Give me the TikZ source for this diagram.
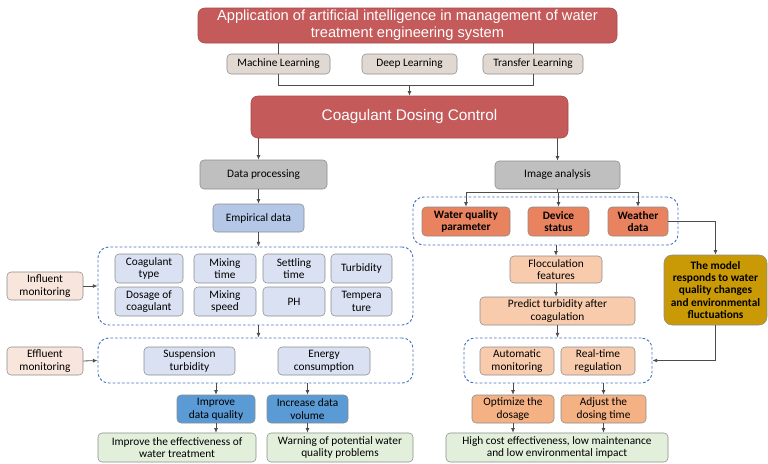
\documentclass[tikz,border=0pt]{standalone}
\usepackage{fontspec}
\setmainfont{Carlito}
\newfontfamily\headfont{Liberation Sans}
\usetikzlibrary{arrows.meta}

\definecolor{cRed}{HTML}{C55A5A}
\definecolor{cRedD}{HTML}{A84848}
\definecolor{cLearn}{HTML}{E2D8D2}
\definecolor{cGrey}{HTML}{BFBFBF}
\definecolor{cEmp}{HTML}{B4C7E7}
\definecolor{cPar}{HTML}{D9E1F2}
\definecolor{cMon}{HTML}{F8E5DC}
\definecolor{cBlue}{HTML}{5B9BD5}
\definecolor{cGreen}{HTML}{E2EFDA}
\definecolor{cOrange}{HTML}{E9825F}
\definecolor{cPeach}{HTML}{F8CBAD}
\definecolor{cApricot}{HTML}{F4B183}
\definecolor{cGold}{HTML}{C99A06}
\definecolor{cDash}{HTML}{4472C4}

\begin{document}
\begin{tikzpicture}[x=0.75pt,y=-0.75pt,
  >={Latex[length=3.5pt,width=3pt]},
  base/.style={draw=black!45, rounded corners=3pt, align=center, inner sep=1pt,
    font=\fontsize{8.5}{9.5}\selectfont, text=black},
  wh/.style 2 args={minimum width=#1*0.75pt, minimum height=#2*0.75pt},
  redbox/.style={base, fill=cRed, draw=cRedD, text=white, rounded corners=5pt},
  learnbox/.style={base, fill=cLearn},
  greybox/.style={base, fill=cGrey},
  empbox/.style={base, fill=cEmp},
  parbox/.style={base, fill=cPar},
  monbox/.style={base, fill=cMon},
  bluebox/.style={base, fill=cBlue},
  greenbox/.style={base, fill=cGreen},
  orangebox/.style={base, fill=cOrange, font=\fontsize{8.5}{9.5}\selectfont\bfseries},
  peachbox/.style={base, fill=cPeach},
  apricotbox/.style={base, fill=cApricot},
  goldbox/.style={base, fill=cGold, rounded corners=6pt, font=\fontsize{8.5}{9.3}\selectfont\bfseries},
  grp/.style={draw=cDash, dashed, dash pattern=on 2pt off 1.5pt, line width=0.7pt, rounded corners=8pt, inner sep=0pt},
  line/.style={draw=black!70, line width=0.6pt}
]
\useasboundingbox (0,0) rectangle (768,464);

% top part
\node[redbox, wh={419}{35}, font=\headfont\fontsize{11}{12.8}\selectfont] (title) at (407.5,25.5)
  {Application of artificial intelligence in management of water\\treatment engineering system};
\node[learnbox, wh={103}{20}] (ml) at (278.5,64) {Machine Learning};
\node[learnbox, wh={95}{20}] (dl) at (409.5,64) {Deep Learning};
\node[learnbox, wh={100}{20}] (tl) at (533,64) {Transfer Learning};
\node[redbox, wh={317}{42}, font=\headfont\fontsize{11.5}{14}\selectfont] (coag) at (409.5,117) {Coagulant Dosing Control};

% left branch
\node[greybox, wh={127}{29}] (dataproc) at (263.5,174.5) {Data processing};
\node[empbox, wh={91}{28}] (empdata) at (258.5,218) {Empirical data};
\node[grp, wh={315}{78}] (grp1) at (255.5,286) {};
\foreach \n/\cx/\w/\ta/\tb in {1/149/68/{Coagulant\\type}/{Dosage of\\coagulant},
    2/225/62/{Mixing\\time}/{Mixing\\speed},
    3/294/62/{Settling\\time}/PH,
    4/361.5/61/Turbidity/{Tempera\\ture}}
{
  \node[parbox, wh={\w}{29}] (pa\n) at (\cx,268.5) {\ta};
  \node[parbox, wh={\w}{29}] (pb\n) at (\cx,301.5) {\tb};
}
\node[monbox, wh={76}{28}] (influent) at (45,286) {Influent\\monitoring};
\node[grp, wh={315}{45}] (grp2) at (255.5,360.5) {};
\node[parbox, wh={91}{28}] (susp) at (189.5,361) {Suspension\\turbidity};
\node[parbox, wh={92}{28}] (energy) at (324,361) {Energy\\consumption};
\node[monbox, wh={76}{28}] (effluent) at (45,361) {Effluent\\monitoring};
\node[bluebox, wh={78}{28}] (quality) at (216,409) {Improve\\data quality};
\node[bluebox, wh={81}{28}] (volume) at (307.5,409) {Increase data\\volume};
\node[greenbox, wh={158}{29}] (effect) at (177,447.5) {Improve the effectiveness of\\water treatment};
\node[greenbox, wh={146}{29}] (warning) at (340,447.5) {Warning of potential water\\quality problems};

% right branch
\node[greybox, wh={125}{28}] (imgan) at (557.5,175) {Image analysis};
\node[grp, wh={265}{48}] (grp3) at (545.5,221) {};
\node[orangebox, wh={88}{29}] (wqp) at (466,221.5) {Water quality\\parameter};
\node[orangebox, wh={61}{29}] (device) at (558.5,221.5) {Device\\status};
\node[orangebox, wh={60}{29}] (weather) at (638,221.5) {Weather\\data};
\node[peachbox, wh={92}{27}] (floc) at (556,269.5) {Flocculation\\features};
\node[peachbox, wh={155}{28}] (predict) at (557.5,311) {Predict turbidity after\\coagulation};
\node[goldbox, wh={103}{70}] (model) at (715.5,290)
  {The model\\responds to water\\quality changes\\and environmental\\fluctuations};
\node[grp, wh={188}{45}] (grp4) at (558,360.5) {};
\node[peachbox, wh={74}{28}] (auto) at (517,361) {Automatic\\monitoring};
\node[peachbox, wh={74}{28}] (realtime) at (598,361) {Real-time\\regulation};
\node[apricotbox, wh={82}{28}] (optimize) at (513,409) {Optimize the\\dosage};
\node[apricotbox, wh={85}{28}] (adjust) at (603.5,409) {Adjust the\\dosing time};
\node[greenbox, wh={222}{29}] (benefit) at (557,447.5) {High cost effectiveness, low maintenance\\and low environmental impact};

% connectors
\coordinate (join) at (409.5,85);
\draw[line] (title.south -| ml) -- (ml.north);
\draw[line] (title.south -| tl) -- (tl.north);
\draw[line] (ml.south) -- (ml.south |- join) -- (tl.south |- join) -- (tl.south);
\draw[line,->] (join) -- (coag.north);
\draw[line,->] (empdata |- coag.south) -- (empdata |- dataproc.north);
\draw[line,->] (coag.south -| imgan) -- (imgan.north);

\draw[line,->] (empdata |- dataproc.south) -- (empdata.north);
\draw[line,->] (empdata.south) -- (empdata.south |- grp1.north);
\draw[line,->] (influent.east) -- (grp1.west);
\draw[line,->] (empdata |- grp1.south) -- (empdata |- grp2.north);
\draw[line,->] (effluent.east) -- (grp2.west);
\draw[line,->] (quality |- grp2.south) -- (quality.north);
\draw[line,->] (volume |- grp2.south) -- (volume.north);
\draw[line,->] (quality.south) -- (quality.south |- effect.north);
\draw[line,->] (volume.south) -- (volume.south |- warning.north);

\coordinate (branch) at ([yshift=-2pt]imgan.south);
\draw[line] (imgan.south) -- (branch);
\draw[line] (wqp.north |- branch) -- (weather.north |- branch);
\foreach \n in {wqp,device,weather}
  \draw[line,->] (\n.north |- branch) -- (\n.north);
\draw[line,->] (weather.east) -| (model.north);
\draw[line,->] (floc |- grp3.south) -- (floc.north);
\draw[line,->] (floc.south) -- (floc.south |- predict.north);
\draw[line,->] (predict.south) -- (predict.south |- grp4.north);
\draw[line,->] (model.south) |- (grp4.east);
\draw[line,->] (optimize |- grp4.south) -- (optimize.north);
\draw[line,->] (adjust |- grp4.south) -- (adjust.north);
\draw[line,->] (optimize.south) -- (optimize.south |- benefit.north);
\draw[line,->] (adjust.south) -- (adjust.south |- benefit.north);

\end{tikzpicture}
\end{document}
